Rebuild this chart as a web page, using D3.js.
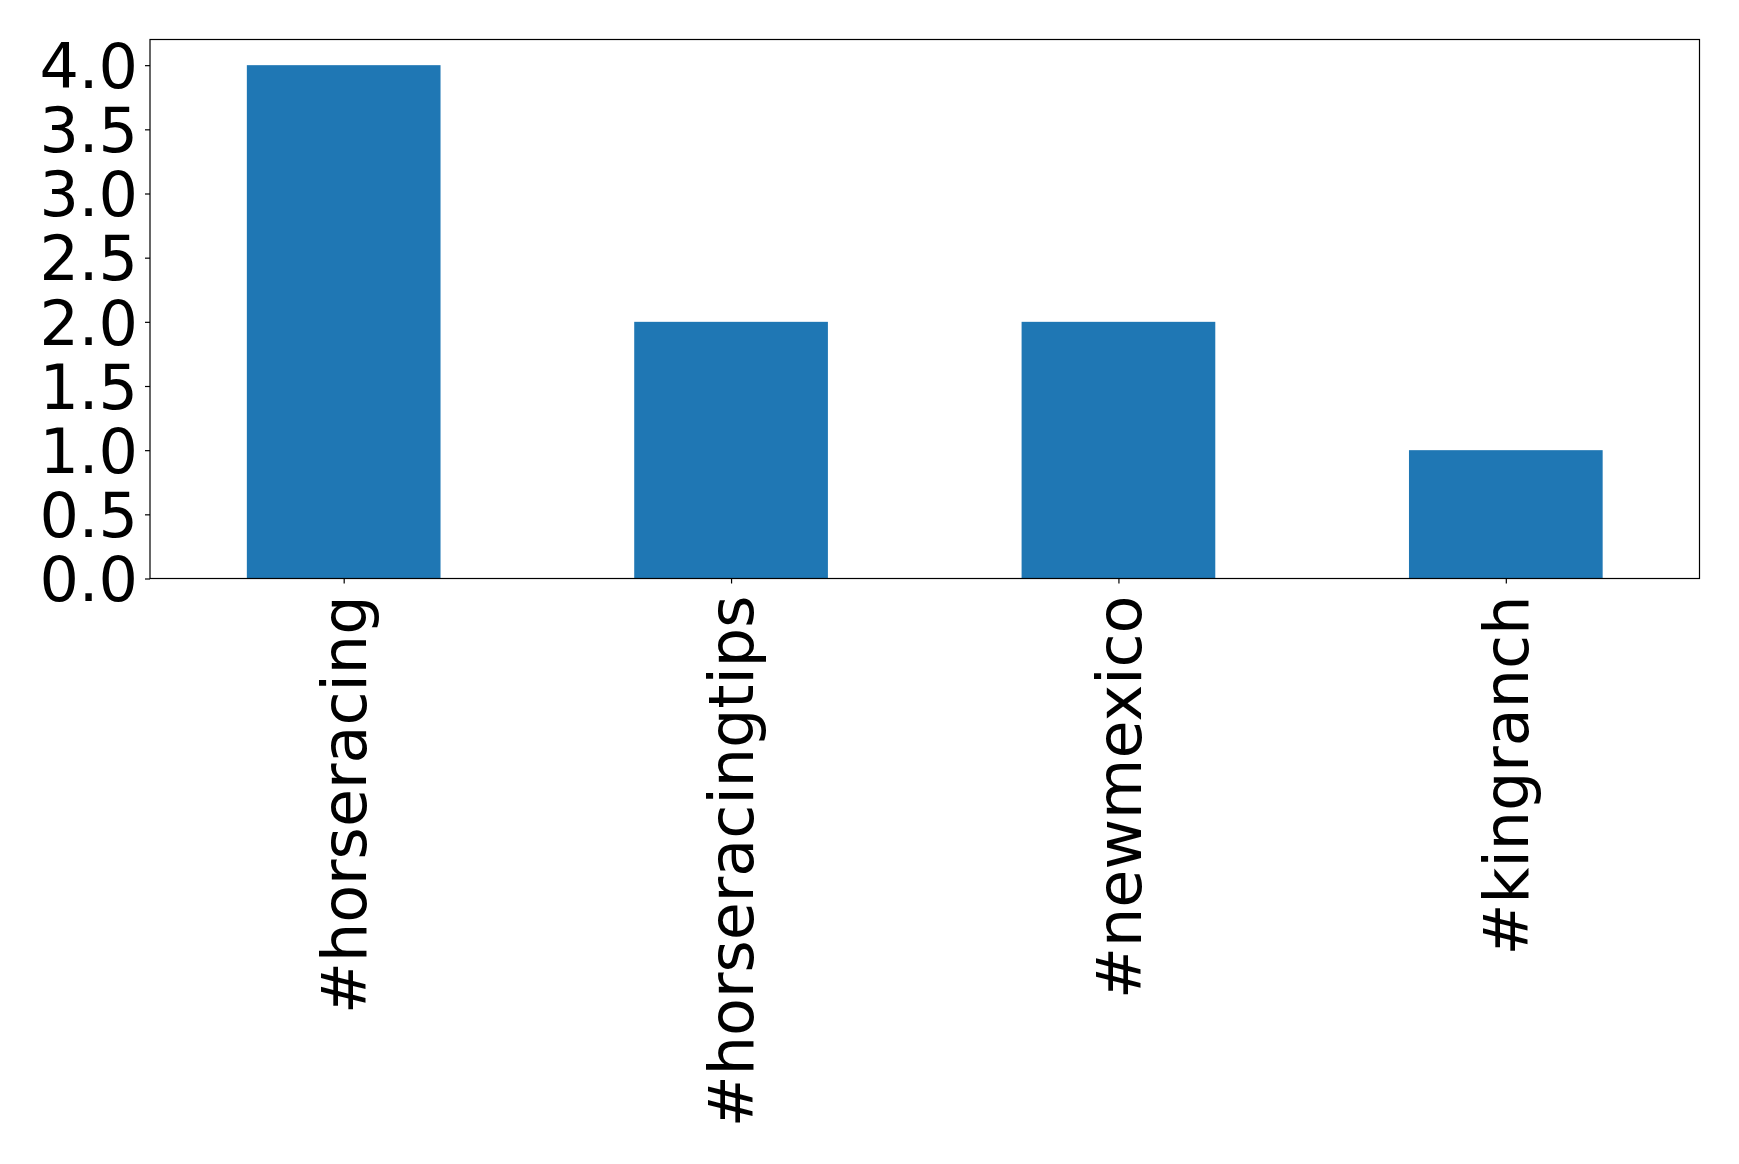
<!DOCTYPE html>
<html>
<head>
<meta charset="utf-8">
<script src="https://cdn.jsdelivr.net/npm/d3@7"></script>
<style>
  html, body { margin: 0; padding: 0; background: #fff; }
  svg { display: block; }
</style>
</head>
<body>
<svg id="chart" width="1739" height="1164"></svg>
<script>
const categories = ["#horseracing", "#horseracingtips", "#newmexico", "#kingranch"];
const values = [4, 2, 2, 1];
const yTicks = [0.0, 0.5, 1.0, 1.5, 2.0, 2.5, 3.0, 3.5, 4.0];

const W = 1739, H = 1164;
const margin = { left: 150, top: 39.5, right: 1739 - 1699.5, bottom: 1164 - 578.5 };
const innerW = W - margin.left - margin.right;
const innerH = H - margin.top - margin.bottom;

const svg = d3.select("#chart");
const g = svg.append("g").attr("transform", `translate(${margin.left},${margin.top})`);

const x = d3.scaleLinear().domain([-0.5, categories.length - 0.5]).range([0, innerW]);
const y = d3.scaleLinear().domain([0, 4.2]).range([innerH, 0]);
const barW = 0.5;

g.selectAll("rect.bar")
  .data(values)
  .join("rect")
  .attr("class", "bar")
  .attr("x", (d, i) => x(i - barW / 2))
  .attr("width", (d, i) => x(i + barW / 2) - x(i - barW / 2))
  .attr("y", d => y(d))
  .attr("height", d => y(0) - y(d))
  .attr("fill", "#1f77b4");

// Y axis
const yAxis = d3.axisLeft(y).tickValues(yTicks).tickFormat(d3.format(".1f")).tickSize(5).tickPadding(7);
const ya = g.append("g").call(yAxis);
ya.select(".domain").remove();
ya.selectAll(".tick line").attr("stroke", "#000").attr("stroke-width", 1.2);
ya.selectAll(".tick text")
  .attr("font-family", "DejaVu Sans")
  .attr("font-size", 62)
  .attr("fill", "#000")
  .attr("dy", "0.36em");

// X axis
const xAxis = d3.axisBottom(x).tickValues(d3.range(categories.length)).tickFormat(i => categories[i]).tickSize(5).tickPadding(10);
const xa = g.append("g").attr("transform", `translate(0,${innerH})`).call(xAxis);
xa.select(".domain").remove();
xa.selectAll(".tick line").attr("stroke", "#000").attr("stroke-width", 1.2);
xa.selectAll(".tick text")
  .attr("font-family", "DejaVu Sans")
  .attr("font-size", 62)
  .attr("fill", "#000")
  .attr("text-anchor", "end")
  .attr("transform", "rotate(-90)")
  .attr("x", -17)
  .attr("y", 0)
  .attr("dy", "0.35em");

// Frame
g.append("rect")
  .attr("x", 0).attr("y", 0)
  .attr("width", innerW).attr("height", innerH)
  .attr("fill", "none")
  .attr("stroke", "#000")
  .attr("stroke-width", 1.2);
</script>
</body>
</html>
